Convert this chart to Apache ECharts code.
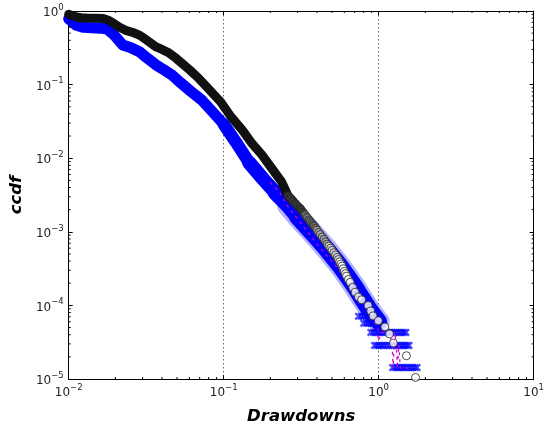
<!DOCTYPE html>
<html>
<head>
<meta charset="utf-8">
<script src="https://cdn.jsdelivr.net/npm/echarts@6/dist/echarts.min.js"></script>
<style>
html,body{margin:0;padding:0;background:#fff;}
#chart{width:547px;height:430px;}
</style>
</head>
<body>
<div id="chart"></div>
<script>
// ---- data ----
// black series: dense band (overlapping circles)
const blackX = [0.0100,0.0105,0.0112,0.0120,0.0135,0.0150,0.0167,0.0180,0.0193,0.0210,0.0236,0.0260,0.0286,0.0320,0.0366,0.0400,0.0442,0.0490,0.0535,0.0600,0.0684,0.0800,0.0957,0.1100,0.1320,0.1500,0.1760,0.2040,0.2360,0.2600,0.2800];
const blackY = [0.90,0.87,0.83,0.81,0.80,0.80,0.79,0.75,0.69,0.61,0.54,0.51,0.47,0.40,0.325,0.30,0.27,0.23,0.197,0.16,0.124,0.087,0.058,0.038,0.024,0.0165,0.0112,0.0073,0.0048,0.0031,0.0026];
// black series: individually visible circles in the tail
const circleX = [0.26,0.27,0.28,0.29,0.30,0.31,0.316,0.325,0.335,0.345,0.355,0.362,0.37,0.377,0.384,0.392,0.40,0.41,0.42,0.432,0.444,0.455,0.465,0.477,0.49,0.50,0.514,0.527,0.54,0.55,0.56,0.57,0.581,0.59,0.60,0.61,0.62,0.637,0.655,0.68,0.705,0.74,0.776,0.855,0.889,0.92,0.995,1.096,1.174,1.245,1.51,1.73];
const circleY = [3.1e-3,2.85e-3,2.6e-3,2.42e-3,2.25e-3,2.1e-3,2.0e-3,1.85e-3,1.7e-3,1.57e-3,1.45e-3,1.37e-3,1.3e-3,1.24e-3,1.19e-3,1.12e-3,1.05e-3,9.8e-4,9.2e-4,8.5e-4,7.9e-4,7.3e-4,6.8e-4,6.4e-4,6.0e-4,5.6e-4,5.2e-4,4.85e-4,4.5e-4,4.2e-4,3.9e-4,3.65e-4,3.43e-4,3.15e-4,2.9e-4,2.7e-4,2.5e-4,2.25e-4,2.06e-4,1.75e-4,1.51e-4,1.3e-4,1.19e-4,1.0e-4,8.4e-5,7.2e-5,6.2e-5,5.1e-5,4.1e-5,3.08e-5,2.07e-5,1.05e-5];
// blue series: dense band (overlapping crosses)
const blueX = [0.0100,0.0105,0.0112,0.0125,0.0140,0.0160,0.0177,0.0195,0.0210,0.0223,0.0250,0.0286,0.0320,0.0366,0.0410,0.0462,0.0530,0.0618,0.0720,0.0828,0.1000,0.1200,0.1460,0.1800,0.2160,0.2600,0.3000,0.3500,0.4000,0.4500,0.5000,0.5600,0.6200,0.7000,0.7800,0.8500,0.9200,1.0000];
const blueY = [0.78,0.72,0.64,0.60,0.59,0.585,0.57,0.48,0.40,0.345,0.32,0.28,0.23,0.185,0.16,0.136,0.105,0.08,0.062,0.045,0.029,0.0165,0.0087,0.0052,0.0034,0.0023,0.0016,0.00112,0.00082,0.00062,0.00047,0.00035,0.00026,0.00018,0.000125,0.000095,0.000075,0.00006];
// blue series: tail crosses (rows of equal ccdf)
const crossX = [0.74,0.77,0.80,0.83,0.86,0.89,0.92,0.96,
                0.80,0.83,0.86,0.89,0.92,0.95,0.98,1.01,1.05,
                0.89,0.92,0.95,0.98,1.01,1.04,1.07,1.10,1.14,1.18,1.22,1.26,1.30,1.34,1.38,1.42,1.46,1.50,
                0.94,0.97,1.00,1.03,1.06,1.09,1.13,1.17,1.21,1.25,1.29,1.33,1.37,1.41,1.45,1.49,1.53,1.57,
                1.23,1.27,1.31,1.35,1.39,1.43,1.47,1.52,1.57,1.62,1.67,1.72,1.77];
const crossY = [7.1e-5,7.1e-5,7.1e-5,7.1e-5,7.1e-5,7.1e-5,7.1e-5,7.1e-5,
                5.7e-5,5.7e-5,5.7e-5,5.7e-5,5.7e-5,5.7e-5,5.7e-5,5.7e-5,5.7e-5,
                4.3e-5,4.3e-5,4.3e-5,4.3e-5,4.3e-5,4.3e-5,4.3e-5,4.3e-5,4.3e-5,4.3e-5,4.3e-5,4.3e-5,4.3e-5,4.3e-5,4.3e-5,4.3e-5,4.3e-5,4.3e-5,
                2.86e-5,2.86e-5,2.86e-5,2.86e-5,2.86e-5,2.86e-5,2.86e-5,2.86e-5,2.86e-5,2.86e-5,2.86e-5,2.86e-5,2.86e-5,2.86e-5,2.86e-5,2.86e-5,2.86e-5,2.86e-5,
                1.43e-5,1.43e-5,1.43e-5,1.43e-5,1.43e-5,1.43e-5,1.43e-5,1.43e-5,1.43e-5,1.43e-5,1.43e-5,1.43e-5,1.43e-5];
// magenta dashed series (visible part)
const magX = [0.20,0.23,0.26,0.30,0.35,0.40,0.46,0.52,0.60,0.68,0.76,0.85,0.92,0.95,0.99,0.99,1.06,1.18,1.22,1.24,1.27,1.30,1.32,1.35,1.38,1.60];
const magY = [0.0047,0.0034,0.0022,0.0015,0.00098,0.00068,0.00048,0.00036,0.00024,0.00017,0.00012,0.000085,0.000071,0.000057,0.000048,0.000033,0.000043,0.000043,0.000029,0.000014,0.000043,0.000029,0.000014,0.000029,0.000014,0.000014];
// axes
const xMin = 0.01, xMax = 10;
const yMin = 1e-5, yMax = 1;
const xTitle = 'Drawdowns';
const yTitle = 'ccdf';

const zip = (a, b) => a.map((v, i) => [v, b[i]]);
const FONT = 'DejaVu Sans';
const crossPath = 'path://M0,2L2,0L5,3L8,0L10,2L7,5L10,8L8,10L5,7L2,10L0,8L3,5Z';

function expLabel(v) {
  const e = Math.round(Math.log10(v));
  return '{b|10}{s|' + String(e).replace('-', '\u2212') + '}';
}
const richLab = {
  b: {fontSize: 12, fontFamily: FONT, color: '#222', lineHeight: 16, verticalAlign: 'bottom'},
  s: {fontSize: 8.5, fontFamily: FONT, color: '#222', lineHeight: 16, verticalAlign: 'top'}
};

const bluePairs = zip(blueX, blueY);
// the spread of the crosses widens toward the tail: graded band widths
const blueBands = [
  {from: 0.0, width: 11},
  {from: 0.1, width: 12.5},
  {from: 0.146, width: 14},
  {from: 0.216, width: 15.5},
  {from: 0.30, width: 17}
];
const blueFuzz = bluePairs.filter(p => p[0] >= 0.26);
// circle face darkens where the overlapping circles were densest
function circleFace(params) {
  const x = params.value[0];
  if (x < 0.33) return '#3a3a3a';
  if (x < 0.40) return '#777';
  if (x < 0.47) return '#aaa';
  if (x < 0.56) return '#d8d8d8';
  return '#fff';
}

const chart = echarts.init(document.getElementById('chart'), null, {renderer: 'canvas'});
const axisCommon = {
  type: 'log', logBase: 10,
  axisLine: {show: true, onZero: false, lineStyle: {color: '#000', width: 1}},
  axisTick: {show: true, inside: true, length: 4, lineStyle: {color: '#000', width: 1}},
  minorTick: {show: false}
};
const series = [
  {
    type: 'line', name: 'blue fuzz', data: blueFuzz, z: 1,
    showSymbol: false, symbol: 'none',
    lineStyle: {color: 'rgba(60,60,255,0.4)', width: 22, cap: 'round', join: 'round'}
  }
];
blueBands.forEach((b, i) => {
  series.push({
    type: 'line', name: 'blue band ' + i, data: bluePairs.filter(p => p[0] >= b.from), z: 2,
    showSymbol: false, symbol: 'none',
    lineStyle: {color: '#0000ff', width: b.width, cap: 'round', join: 'round'}
  });
});
series.push(
  {
    type: 'scatter', name: 'blue tail', data: zip(crossX, crossY), z: 2,
    symbol: crossPath, symbolSize: 8,
    itemStyle: {color: 'rgba(0,0,255,0.85)'}
  },
  {
    type: 'line', name: 'magenta', data: zip(magX, magY), z: 3,
    showSymbol: false, symbol: 'none',
    lineStyle: {color: '#d000d0', width: 1.2, type: [3, 4]}
  },
  {
    type: 'line', name: 'black band', data: zip(blackX, blackY), z: 4,
    showSymbol: false, symbol: 'none',
    lineStyle: {color: '#111', width: 9, cap: 'round', join: 'round'}
  },
  {
    type: 'scatter', name: 'black tail', data: zip(circleX, circleY), z: 5,
    symbol: 'circle', symbolSize: 8,
    itemStyle: {color: circleFace, borderColor: '#222', borderWidth: 1}
  }
);

chart.setOption({
  animation: false,
  backgroundColor: '#fff',
  grid: {left: 63, top: 11, right: 10, bottom: 50, containLabel: false},
  xAxis: [
    Object.assign({}, axisCommon, {
      position: 'bottom', min: xMin, max: xMax,
      name: xTitle, nameLocation: 'middle', nameGap: 29,
      nameTextStyle: {fontFamily: FONT, fontSize: 16.5, fontWeight: 'bold', fontStyle: 'italic', color: '#000'},
      axisLabel: {show: true, margin: 4, showMinLabel: true, showMaxLabel: true, formatter: expLabel, rich: richLab},
      splitLine: {show: true, lineStyle: {color: '#666', type: [1.5, 2.5], width: 1}}
    }),
    Object.assign({}, axisCommon, {
      position: 'top', min: xMin, max: xMax,
      axisLabel: {show: false}, splitLine: {show: false}
    })
  ],
  yAxis: [
    Object.assign({}, axisCommon, {
      position: 'left', min: yMin, max: yMax,
      name: yTitle, nameLocation: 'middle', nameGap: 40, nameRotate: 90,
      nameTextStyle: {fontFamily: FONT, fontSize: 16.5, fontWeight: 'bold', fontStyle: 'italic', color: '#000'},
      axisLabel: {show: true, margin: 5, showMinLabel: true, showMaxLabel: true, formatter: expLabel, rich: richLab},
      splitLine: {show: false}
    }),
    Object.assign({}, axisCommon, {
      position: 'right', min: yMin, max: yMax,
      axisLabel: {show: false}, splitLine: {show: false}
    })
  ],
  series: series
});

// minor ticks (inward, on all four sides)
const gr = [];
const pb = chart.convertToPixel({xAxisIndex: 0, yAxisIndex: 0}, [xMin, yMin]);
const pt = chart.convertToPixel({xAxisIndex: 0, yAxisIndex: 0}, [xMax, yMax]);
for (let d = Math.log10(xMin); d < Math.log10(xMax); d++) {
  for (let m = 2; m <= 9; m++) {
    const px = chart.convertToPixel({xAxisIndex: 0}, m * Math.pow(10, d));
    gr.push({type: 'line', shape: {x1: px, y1: pb[1], x2: px, y2: pb[1] - 2}, style: {stroke: '#000', lineWidth: 1}, z: 10});
    gr.push({type: 'line', shape: {x1: px, y1: pt[1], x2: px, y2: pt[1] + 2}, style: {stroke: '#000', lineWidth: 1}, z: 10});
  }
}
for (let d = Math.log10(yMin); d < Math.log10(yMax); d++) {
  for (let m = 2; m <= 9; m++) {
    const py = chart.convertToPixel({yAxisIndex: 0}, m * Math.pow(10, d));
    gr.push({type: 'line', shape: {x1: pb[0], y1: py, x2: pb[0] + 2, y2: py}, style: {stroke: '#000', lineWidth: 1}, z: 10});
    gr.push({type: 'line', shape: {x1: pt[0], y1: py, x2: pt[0] - 2, y2: py}, style: {stroke: '#000', lineWidth: 1}, z: 10});
  }
}
chart.setOption({graphic: gr});
</script>
</body>
</html>
